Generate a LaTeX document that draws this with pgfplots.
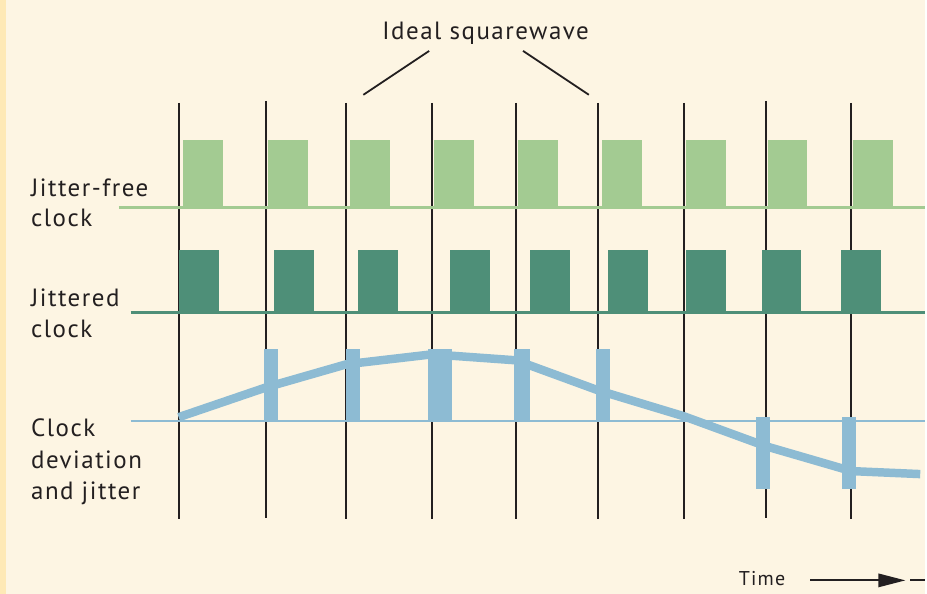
\documentclass[border=0pt]{standalone}
\usepackage{pgfplots}
\pgfplotsset{compat=1.18}
\usepackage{fontspec}
\setmainfont[LetterSpace=6]{PT Sans}
\definecolor{bg}{RGB}{253,245,227}
\definecolor{strip}{RGB}{254,233,182}
\definecolor{lgreen}{RGB}{163,203,146}
\definecolor{dgreen}{RGB}{78,143,120}
\definecolor{cblue}{RGB}{141,187,211}
\definecolor{ink}{RGB}{35,31,32}
\begin{document}
\begin{tikzpicture}
\begin{axis}[
  scale only axis, width=927pt, height=595pt,
  xmin=0, xmax=927, ymin=0, ymax=595, y dir=reverse,
  hide axis, clip=false,
  every axis plot/.append style={line cap=butt},
]
% background
\addplot[fill=bg, draw=none] coordinates {(0,0)(927,0)(927,595)(0,595)};
\addplot[fill=strip, draw=none] coordinates {(0,0)(6,0)(6,595)(0,595)};
% vertical reference lines
\addplot[ink, line width=2pt] coordinates {(179,103)(179,520)};
\addplot[ink, line width=2pt] coordinates {(267,101)(267,519)};
\addplot[ink, line width=2pt] coordinates {(347,103)(347,520)};
\addplot[ink, line width=2pt] coordinates {(433,103)(433,520)};
\addplot[ink, line width=2pt] coordinates {(517,103)(517,520)};
\addplot[ink, line width=2pt] coordinates {(599,103)(599,520)};
\addplot[ink, line width=2pt] coordinates {(685,103)(685,520)};
\addplot[ink, line width=2pt] coordinates {(767,101)(767,519)};
\addplot[ink, line width=2pt] coordinates {(853,103)(853,520)};
% pointer lines
\addplot[ink, line width=1.8pt] coordinates {(364,95)(430,51)};
\addplot[ink, line width=1.8pt] coordinates {(524,51)(590,95)};
% baselines
\addplot[lgreen, line width=3.6pt] coordinates {(119,208)(927,208)};
\addplot[dgreen, line width=2.6pt] coordinates {(131,313)(927,313)};
\addplot[cblue, line width=2.6pt] coordinates {(131,422)(927,422)};
% jitter-free pulses
\addplot[fill=lgreen, draw=none] coordinates {(183,140)(223,140)(223,208)(183,208)};
\addplot[fill=lgreen, draw=none] coordinates {(269,140)(309,140)(309,208)(269,208)};
\addplot[fill=lgreen, draw=none] coordinates {(351,140)(391,140)(391,208)(351,208)};
\addplot[fill=lgreen, draw=none] coordinates {(435,140)(475,140)(475,208)(435,208)};
\addplot[fill=lgreen, draw=none] coordinates {(519,140)(559,140)(559,208)(519,208)};
\addplot[fill=lgreen, draw=none] coordinates {(603,140)(643,140)(643,208)(603,208)};
\addplot[fill=lgreen, draw=none] coordinates {(687,140)(727,140)(727,208)(687,208)};
\addplot[fill=lgreen, draw=none] coordinates {(769,140)(809,140)(809,208)(769,208)};
\addplot[fill=lgreen, draw=none] coordinates {(855,140)(895,140)(895,208)(855,208)};
% jittered pulses
\addplot[fill=dgreen, draw=none] coordinates {(179,250)(219,250)(219,313)(179,313)};
\addplot[fill=dgreen, draw=none] coordinates {(275,250)(315,250)(315,313)(275,313)};
\addplot[fill=dgreen, draw=none] coordinates {(359,250)(399,250)(399,313)(359,313)};
\addplot[fill=dgreen, draw=none] coordinates {(451,250)(491,250)(491,313)(451,313)};
\addplot[fill=dgreen, draw=none] coordinates {(531,250)(571,250)(571,313)(531,313)};
\addplot[fill=dgreen, draw=none] coordinates {(609,250)(649,250)(649,313)(609,313)};
\addplot[fill=dgreen, draw=none] coordinates {(687,250)(727,250)(727,313)(687,313)};
\addplot[fill=dgreen, draw=none] coordinates {(763,250)(803,250)(803,313)(763,313)};
\addplot[fill=dgreen, draw=none] coordinates {(843,250)(883,250)(883,313)(843,313)};
% jitter bars
\addplot[fill=cblue, draw=none] coordinates {(265,350)(279,350)(279,422)(265,422)};
\addplot[fill=cblue, draw=none] coordinates {(347,350)(361,350)(361,422)(347,422)};
\addplot[fill=cblue, draw=none] coordinates {(429,350)(453,350)(453,422)(429,422)};
\addplot[fill=cblue, draw=none] coordinates {(515,350)(531,350)(531,422)(515,422)};
\addplot[fill=cblue, draw=none] coordinates {(597,350)(611,350)(611,422)(597,422)};
\addplot[fill=cblue, draw=none] coordinates {(757,418)(771,418)(771,490)(757,490)};
\addplot[fill=cblue, draw=none] coordinates {(844,418)(858,418)(858,490)(844,490)};
% deviation curve
\addplot[cblue, line width=8.5pt, line join=miter] coordinates {
 (179,418)(267,388)(347,365)(433,355)(517,361)(599,391)(685,417)(767,447)(853,472)(922,475)};
% time arrow
\addplot[ink, line width=2pt] coordinates {(812,581.5)(882,581.5)};
\addplot[fill=ink, draw=none] coordinates {(880,574.5)(907,581.5)(880,588.5)};
\addplot[ink, line width=2pt] coordinates {(912,581.5)(927,581.5)};
% texts
\node[anchor=base west, inner sep=0pt, text=ink, font=\fontsize{25}{30}\selectfont] at (axis cs:383,40) {Ideal squarewave};
\node[anchor=base west, inner sep=0pt, text=ink, font=\fontsize{25}{30}\selectfont] at (axis cs:31,197) {Jitter-free};
\node[anchor=base west, inner sep=0pt, text=ink, font=\fontsize{25}{30}\selectfont] at (axis cs:31,227) {clock};
\node[anchor=base west, inner sep=0pt, text=ink, font=\fontsize{25}{30}\selectfont] at (axis cs:31,307) {Jittered};
\node[anchor=base west, inner sep=0pt, text=ink, font=\fontsize{25}{30}\selectfont] at (axis cs:31,338) {clock};
\node[anchor=base west, inner sep=0pt, text=ink, font=\fontsize{25}{30}\selectfont] at (axis cs:31,437) {Clock};
\node[anchor=base west, inner sep=0pt, text=ink, font=\fontsize{25}{30}\selectfont] at (axis cs:31,469) {deviation};
\node[anchor=base west, inner sep=0pt, text=ink, font=\fontsize{25}{30}\selectfont] at (axis cs:31,500) {and jitter};
\node[anchor=base west, inner sep=0pt, text=ink, font=\fontsize{20}{24}\selectfont] at (axis cs:740,587) {Time};
\end{axis}
\end{tikzpicture}
\end{document}
